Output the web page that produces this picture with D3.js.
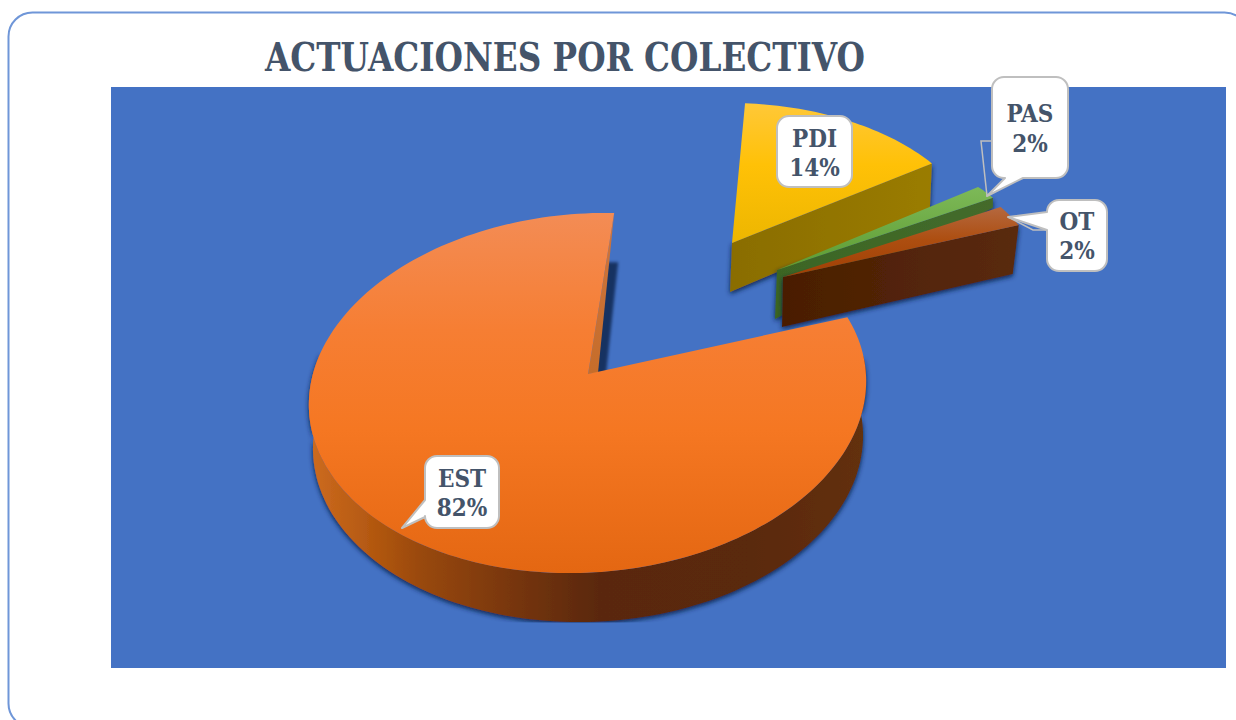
<!DOCTYPE html>
<html><head><meta charset="utf-8">
<script src="https://cdn.jsdelivr.net/npm/d3@7/dist/d3.min.js"></script>
<style>html,body{margin:0;padding:0;background:#fff;overflow:hidden}svg{display:block}</style>
</head><body><svg id="c" width="1236" height="720"></svg>
<script>
const chartTitle = "ACTUACIONES POR COLECTIVO";
const categories = ["EST", "PDI", "PAS", "OT"];
const shares = [82.4, 13.8, 1.9, 1.9];

const W = 1236, H = 720;
const TITLE_COLOR = "#44546A";
const FONT = "'DejaVu Serif Condensed', 'DejaVu Serif', serif";
const startDeg = 67;

// 3D projection of every slice: top ellipse, apex, and wall depth
const projection = {
  EST: {cx:587.5, cy:393, rx:278.5, ry:180, sx:9, sy:6, apex:[588,374], wall:{cx:588, cy:442, rx:275, ry:180, sx:5, sy:3}},
  PDI: {cx:729, cy:253, rx:253, ry:150, sx:0, sy:0, apex:[732,243], apexDrop:[-2,49], rimDrop:[-2,44]},
  PAS: {cx:796, cy:252, rx:227, ry:109, sx:0, sy:0, apex:[777,270], apexDrop:[-2,49], rimDrop:[0,10]},
  OT:  {cx:703, cy:291.5, rx:343, ry:170, sx:0, sy:0, apex:[783,277], apexDrop:[-1,50], rimDrop:[-6,49]}
};
const topColors = {
  EST: [[213,"#F38C55"],[330,"#F67E33"],[430,"#F57722"],[573,"#E46712"]],
  PDI: [[103,"#FFC838"],[165,"#FFC107"],[243,"#EDB600"]],
  PAS: [[187,"#7DB958"],[270,"#5D9C32"]],
  OT:  [[207,"#B5683F"],[240,"#AD4E10"],[277,"#A03F04"]]
};
const sideColors = {
  PDI: ["#8A6D00","#9A7C02"], PAS: ["#3B6524","#446B2B"], OT: ["#4A1E00","#5A2A10"]
};
const callouts = {
  EST: {box:[425,456,74,72], base:[[425,500],[425,517]], tip:[402,528], lines:[487,516], tx:462},
  PDI: {box:[777,116,75,71], lines:[147,176], tx:814.5},
  PAS: {box:[992,77,76,101], base:[[1005,178],[1023,178]], tip:[987,196], lines:[122,152], tx:1030, leader:[[992,141],[981,141],[987,196]]},
  OT:  {box:[1047,200,60,71], base:[[1047,212],[1047,230]], tip:[1008,217], lines:[230,259], tx:1077, leader:[[1008,217],[1033,230],[1047,230]]}
};

const svg = d3.select("#c");
const defs = svg.append("defs");
const rad = d3.scaleLinear().domain([0,360]).range([0,2*Math.PI]);

const f = defs.append("filter").attr("id","sh").attr("x","-15%").attr("y","-15%").attr("width","130%").attr("height","130%");
f.append("feDropShadow").attr("dx",0).attr("dy",2).attr("stdDeviation",2.4).attr("flood-color","#0c2348").attr("flood-opacity",1);
defs.append("clipPath").attr("id","plotClip").append("rect").attr("x",0).attr("y",0).attr("width",W).attr("height",622.5);

function vGrad(id, stops){
  const g = defs.append("linearGradient").attr("id",id).attr("gradientUnits","userSpaceOnUse")
    .attr("x1",0).attr("x2",0).attr("y1",stops[0][0]).attr("y2",stops[stops.length-1][0]);
  const s = d3.scaleLinear().domain([stops[0][0],stops[stops.length-1][0]]).range([0,1]);
  stops.forEach(d=>g.append("stop").attr("offset",s(d[0])).attr("stop-color",d[1]));
}
categories.forEach(c=>vGrad("top"+c, topColors[c]));
const wg = defs.append("linearGradient").attr("id","wallEST").attr("gradientUnits","userSpaceOnUse")
  .attr("x1",313).attr("x2",863).attr("y1",0).attr("y2",0);
[[0,"#CC6A1E"],[.12,"#B0560F"],[.2,"#98480E"],[.38,"#74340A"],[.52,"#5A2807"],[.8,"#5A2908"],[1,"#633009"]]
  .forEach(d=>wg.append("stop").attr("offset",d[0]).attr("stop-color",d[1]));

// frame and plot background
svg.append("rect").attr("x",8.5).attr("y",12.5).attr("width",1240).attr("height",715).attr("rx",24)
  .attr("fill","#fff").attr("stroke","#6F96D8").attr("stroke-width",2);
svg.append("rect").attr("x",111).attr("y",87).attr("width",1115).attr("height",581).attr("fill","#4472C4");
svg.append("text").attr("x",565).attr("y",71).attr("text-anchor","middle")
  .attr("font-family",FONT).attr("font-weight",700).attr("font-size",38.5)
  .attr("textLength",600).attr("lengthAdjust","spacingAndGlyphs")
  .attr("fill",TITLE_COLOR).text(chartTitle);

// slices
const pie = d3.pie().sort(null).startAngle(rad(startDeg)).endAngle(rad(startDeg)+2*Math.PI);
const arcs = pie(shares).map((a,i)=>({...a, cat:categories[i]}));
const line = d3.line();

function rim(p,t){
  return [p.cx + p.rx*Math.sin(t) + (p.sx||0)*Math.cos(t),
          p.cy - p.ry*Math.cos(t) - (p.sy||0)*Math.sin(t)];
}
function rimPts(p,t0,t1,n){
  return d3.range(n+1).map(i=>rim(p,t0+(t1-t0)*i/n));
}
const plot = svg.append("g").attr("clip-path","url(#plotClip)");
const order = ["PDI","PAS","OT","EST"];
order.forEach(cat=>{
  const a = arcs.find(d=>d.cat===cat), p = projection[cat];
  const g = plot.append("g");
  if(cat==="EST"){
    const w0=rad(80), w1=rad(285);
    const bottom = rimPts(p.wall,w0,w1,120), top = rimPts(p,w1,w0,120);
    g.append("path").attr("d",line(bottom.concat(top))+"Z").attr("fill","url(#wallEST)").attr("filter","url(#sh)");
    const tip = rim(p,a.endAngle);
    const inner = rim(p.wall,a.endAngle);
    // shadow of the cut wall, seen through the gap
    g.append("path").attr("d",line([[tip[0]-7,inner[1]],[tip[0]+4,inner[1]],[p.apex[0]+18,p.apex[1]],[p.apex[0]+6,p.apex[1]]])+"Z")
      .attr("fill","#0f2750").attr("opacity",.85).attr("filter","blur(1.5px)");
    vGrad("stripEST",[[tip[1],"#CC7440"],[p.apex[1],"#C66D2A"]]);
    g.append("path").attr("d",line([tip,[p.apex[0]+10,p.apex[1]-1],p.apex])+"Z").attr("fill","url(#stripEST)");
  } else {
    const e = rim(p,a.endAngle);
    const gid="side"+cat;
    const sg = defs.append("linearGradient").attr("id",gid).attr("gradientUnits","userSpaceOnUse")
      .attr("x1",p.apex[0]).attr("x2",e[0]).attr("y1",0).attr("y2",0);
    sideColors[cat].forEach((c,i)=>sg.append("stop").attr("offset",i).attr("stop-color",c));
    const q = [p.apex, e, [e[0]+p.rimDrop[0],e[1]+p.rimDrop[1]], [p.apex[0]+p.apexDrop[0],p.apex[1]+p.apexDrop[1]]];
    g.append("path").attr("d",line(q)+"Z").attr("fill","url(#"+gid+")").attr("filter","url(#sh)");
  }
  const pts = [p.apex].concat(rimPts(p,a.startAngle,a.endAngle,cat==="EST"?200:40));
  g.append("path").attr("d",line(pts)+"Z").attr("fill","url(#top"+cat+")");
});

// callouts
const pct = d3.format(".0%");
const total = d3.sum(shares);
function calloutPath(c){
  const [x,y,w,h]=c.box, r=12, P=d3.path();
  P.moveTo(x+r,y);
  P.lineTo(x+w-r,y); P.arcTo(x+w,y,x+w,y+r,r);
  P.lineTo(x+w,y+h-r); P.arcTo(x+w,y+h,x+w-r,y+h,r);
  if(c.base && c.base[0][1]===y+h){ // pointer on the bottom side
    P.lineTo(c.base[1][0],y+h); P.lineTo(c.tip[0],c.tip[1]); P.lineTo(c.base[0][0],y+h);
  }
  P.lineTo(x+r,y+h); P.arcTo(x,y+h,x,y+h-r,r);
  if(c.base && c.base[0][0]===x){ // pointer on the left side
    P.lineTo(x,c.base[1][1]); P.lineTo(c.tip[0],c.tip[1]); P.lineTo(x,c.base[0][1]);
  }
  P.lineTo(x,y+r); P.arcTo(x,y,x+r,y,r);
  P.closePath();
  return P.toString();
}
const labels = svg.append("g");
categories.forEach((cat,i)=>{
  const c = callouts[cat];
  if(c.leader) labels.append("path").attr("d",line(c.leader)).attr("fill","none").attr("stroke","#BFBFBF").attr("stroke-width",1.5);
  labels.append("path").attr("d",calloutPath(c)).attr("fill","#fff").attr("stroke","#BFBFBF").attr("stroke-width",2).attr("stroke-linejoin","round");
  [cat, pct(shares[i]/total)].forEach((t,j)=>{
    labels.append("text").attr("x",c.tx).attr("y",c.lines[j]).attr("text-anchor","middle")
      .attr("font-family",FONT).attr("font-weight",700).attr("font-size",24).attr("fill",TITLE_COLOR).text(t);
  });
});
</script></body></html>
